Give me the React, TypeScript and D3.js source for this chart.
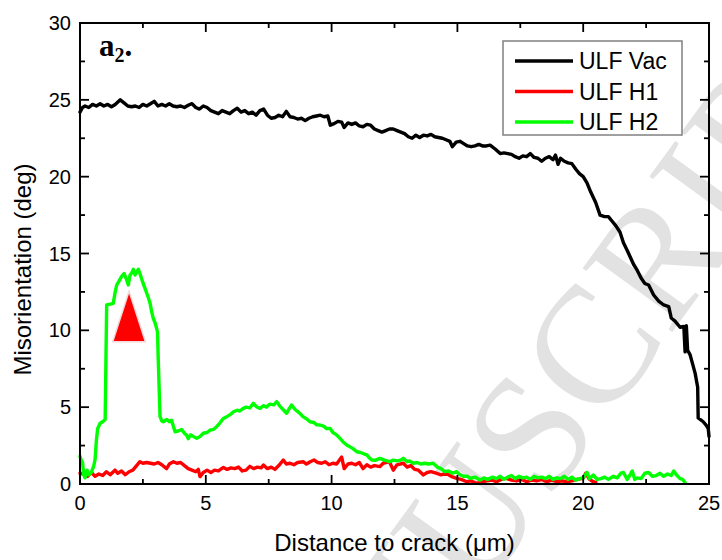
import React from "react";
import * as d3 from "d3";

// ---------- data ----------
const seriesNames = ["ULF Vac", "ULF H1", "ULF H2"];
const seriesColors = ["#000000", "#ff0000", "#00ff00"];

const xMajorTicks = [0, 5, 10, 15, 20, 25];
const xMinorTicks = [2.5, 7.5, 12.5, 17.5, 22.5];
const yMajorTicks = [0, 5, 10, 15, 20, 25, 30];
const yMinorTicks = [2.5, 7.5, 12.5, 17.5, 22.5, 27.5];

const ulfVac: [number, number][] = [
  [0, 24.2], [0.1, 24.5], [0.2, 24.6], [0.35, 24.5], [0.5, 24.7], [0.65, 24.6], [0.8, 24.75],
  [0.95, 24.6], [1.1, 24.7], [1.25, 24.55], [1.4, 24.7], [1.6, 25.0], [1.75, 24.8], [1.9, 24.6],
  [2.05, 24.55], [2.2, 24.6], [2.35, 24.5], [2.5, 24.7], [2.65, 24.6], [2.8, 24.75], [2.95, 24.9],
  [3.1, 24.6], [3.25, 24.7], [3.4, 24.6], [3.55, 24.75], [3.7, 24.6], [3.85, 24.55], [4.0, 24.6],
  [4.15, 24.5], [4.3, 24.65], [4.45, 24.75], [4.6, 24.5], [4.75, 24.4], [4.9, 24.6], [5.05, 24.5],
  [5.2, 24.3], [5.35, 24.2], [5.5, 24.1], [5.65, 24.3], [5.8, 24.2], [5.95, 24.1], [6.1, 24.3],
  [6.25, 24.45], [6.4, 24.2], [6.55, 24.3], [6.7, 24.1], [6.85, 24.2], [7.0, 24.0], [7.15, 24.3],
  [7.3, 24.4], [7.45, 24.0], [7.6, 23.8], [7.75, 23.85], [7.9, 24.0], [8.05, 23.9], [8.2, 24.25],
  [8.35, 23.9], [8.5, 23.85], [8.65, 23.75], [8.8, 23.8], [8.95, 23.65], [9.1, 23.8], [9.25, 23.9],
  [9.4, 23.95], [9.55, 24.0], [9.7, 23.9], [9.85, 23.95], [9.95, 23.35], [10.1, 23.45], [10.25, 23.6],
  [10.4, 23.55], [10.5, 23.2], [10.65, 23.5], [10.8, 23.4], [10.95, 23.5], [11.1, 23.3], [11.25, 23.25],
  [11.4, 23.4], [11.55, 23.35], [11.7, 23.1], [11.85, 23.0], [12.0, 22.9], [12.15, 23.0], [12.3, 23.1],
  [12.45, 23.1], [12.6, 23.0], [12.75, 22.9], [12.9, 22.8], [13.05, 22.6], [13.2, 22.5], [13.35, 22.7],
  [13.5, 22.55], [13.65, 22.7], [13.8, 22.65], [13.95, 22.75], [14.1, 22.6], [14.25, 22.55], [14.4, 22.5],
  [14.55, 22.4], [14.7, 22.3], [14.8, 21.95], [14.95, 22.25], [15.1, 22.3], [15.25, 22.15], [15.4, 22.0],
  [15.55, 21.95], [15.7, 22.0], [15.85, 22.1], [16.0, 22.0], [16.15, 22.0], [16.3, 22.05], [16.5, 21.8],
  [16.7, 21.5], [16.85, 21.55], [17.0, 21.5], [17.15, 21.45], [17.3, 21.3], [17.45, 21.2], [17.6, 21.35],
  [17.75, 21.3], [17.9, 21.5], [18.05, 21.25], [18.2, 21.2], [18.35, 21.0], [18.5, 21.2], [18.65, 21.3],
  [18.8, 21.1], [18.9, 21.4], [19.0, 20.8], [19.1, 21.2], [19.25, 21.0], [19.4, 20.9], [19.55, 20.85],
  [19.7, 20.5], [19.85, 20.2], [20.0, 20.0], [20.15, 19.6], [20.3, 19.0], [20.5, 18.3], [20.67, 17.5],
  [20.85, 17.4], [21.0, 17.4], [21.15, 17.1], [21.3, 16.8], [21.46, 16.4], [21.6, 15.7], [21.75, 15.2],
  [21.86, 14.8], [22.0, 14.3], [22.15, 13.9], [22.3, 13.4], [22.45, 13.05], [22.6, 12.95], [22.8, 12.3],
  [23.0, 11.9], [23.2, 11.65], [23.4, 11.55], [23.5, 10.8], [23.65, 10.6], [23.85, 10.2], [24.0, 10.25],
  [24.05, 8.6], [24.1, 10.3], [24.15, 8.7], [24.25, 8.4], [24.35, 7.8], [24.45, 7.2], [24.55, 6.3],
  [24.57, 4.3], [24.77, 4.05], [24.9, 3.8], [24.97, 3.6], [25.0, 3.1],
];

const ulfH1: [number, number][] = [
  [0, 0.7], [0.15, 0.65], [0.3, 0.5], [0.45, 0.75], [0.6, 0.5], [0.75, 0.65], [0.9, 0.55], [1.05, 0.8],
  [1.2, 0.6], [1.39, 0.9], [1.5, 0.7], [1.65, 0.85], [1.8, 0.6], [1.95, 0.8], [2.1, 0.9], [2.25, 1.2],
  [2.38, 1.45], [2.5, 1.35], [2.65, 1.4], [2.8, 1.35], [2.95, 1.3], [3.1, 1.4], [3.25, 1.25], [3.44, 1.0],
  [3.55, 1.3], [3.71, 1.45], [3.85, 1.35], [4.0, 1.4], [4.15, 1.2], [4.3, 1.0], [4.45, 0.9], [4.6, 0.8],
  [4.7, 0.95], [4.77, 0.48], [4.9, 0.75], [5.05, 0.9], [5.2, 0.75], [5.35, 0.9], [5.5, 0.85], [5.7, 1.08],
  [5.85, 0.95], [6.0, 1.05], [6.15, 1.0], [6.3, 1.1], [6.45, 0.85], [6.6, 0.9], [6.75, 1.15], [6.9, 1.0],
  [7.05, 1.1], [7.2, 1.05], [7.29, 1.24], [7.45, 1.0], [7.6, 1.1], [7.75, 0.95], [7.9, 1.2], [8.08, 1.56],
  [8.2, 1.3], [8.35, 1.35], [8.5, 1.25], [8.65, 1.4], [8.87, 1.45], [9.0, 1.3], [9.15, 1.45], [9.3, 1.56],
  [9.45, 1.4], [9.6, 1.35], [9.75, 1.45], [9.9, 1.25], [10.05, 1.35], [10.2, 1.3], [10.4, 1.75], [10.5, 1.0],
  [10.65, 1.3], [10.8, 1.35], [10.95, 1.25], [11.1, 1.4], [11.25, 1.0], [11.4, 1.25], [11.55, 1.1], [11.7, 1.2],
  [11.92, 1.13], [12.05, 1.35], [12.3, 1.45], [12.45, 0.9], [12.6, 1.25], [12.85, 1.35], [13.0, 1.1],
  [13.15, 1.2], [13.3, 0.95], [13.45, 0.9], [13.65, 0.59], [13.8, 0.75], [13.95, 0.8], [14.15, 0.7],
  [14.35, 0.6], [14.55, 0.7], [14.75, 0.5], [14.97, 0.37], [15.15, 0.3], [15.37, 0.15], [15.55, 0.2],
  [15.75, 0.05], [15.95, 0.1], [16.15, 0.2], [16.35, 0.26], [16.55, 0.15], [16.75, 0.3], [16.95, 0.37],
  [17.15, 0.25], [17.35, 0.2], [17.55, 0.3], [17.75, 0.15], [17.95, 0.25], [18.15, 0.2], [18.35, 0.3],
  [18.55, 0.15], [18.75, 0.25], [18.95, 0.15], [19.15, 0.2], [19.35, 0.15], [19.55, 0.2], [19.75, 0.3],
  [20.0, 0.37], [20.1, 0.7], [20.25, 0.3], [20.4, 0.15], [20.5, 0.1],
];

const ulfH2: [number, number][] = [
  [0, 1.8], [0.05, 1.55], [0.1, 1.4], [0.15, 0.6], [0.2, 0.4], [0.28, 0.9], [0.35, 0.6], [0.45, 0.75],
  [0.55, 1.2], [0.6, 1.6], [0.65, 2.8], [0.7, 3.6], [0.8, 3.95], [0.9, 4.05], [1.0, 4.2], [1.03, 8.0],
  [1.06, 11.65], [1.2, 11.7], [1.32, 11.75], [1.4, 12.5], [1.46, 12.95], [1.55, 13.2], [1.65, 13.5],
  [1.75, 13.7], [1.85, 13.3], [1.92, 12.95], [1.99, 13.6], [2.06, 13.75], [2.12, 13.97], [2.19, 13.6],
  [2.26, 13.8], [2.32, 13.97], [2.4, 13.6], [2.5, 13.1], [2.58, 12.75], [2.7, 12.2], [2.78, 11.8],
  [2.85, 11.2], [2.91, 10.8], [3.0, 10.4], [3.08, 9.9], [3.11, 8.1], [3.15, 6.0], [3.18, 4.4], [3.25, 4.1],
  [3.31, 4.05], [3.45, 4.2], [3.55, 4.05], [3.64, 4.15], [3.72, 3.7], [3.78, 3.4], [3.9, 3.45], [4.04, 3.55],
  [4.15, 3.3], [4.25, 3.15], [4.3, 2.95], [4.4, 3.2], [4.5, 3.1], [4.64, 2.97], [4.78, 3.1], [4.9, 3.3],
  [5.05, 3.35], [5.17, 3.5], [5.3, 3.55], [5.43, 3.73], [5.55, 3.95], [5.7, 4.27], [5.85, 4.4], [6.0, 4.55],
  [6.1, 4.7], [6.25, 4.8], [6.35, 4.75], [6.49, 4.92], [6.6, 5.0], [6.75, 4.95], [6.89, 5.25], [7.0, 5.05],
  [7.15, 4.92], [7.3, 5.1], [7.4, 5.0], [7.55, 5.2], [7.7, 5.15], [7.82, 5.36], [7.95, 5.05], [8.1, 4.8],
  [8.21, 4.6], [8.3, 4.85], [8.41, 5.14], [8.55, 4.85], [8.74, 4.6], [8.85, 4.4], [9.0, 4.25], [9.14, 4.05],
  [9.3, 4.0], [9.4, 3.85], [9.54, 3.84], [9.7, 3.75], [9.8, 3.6], [9.94, 3.62], [10.05, 3.35], [10.2, 3.2],
  [10.33, 2.97], [10.45, 2.75], [10.6, 2.54], [10.75, 2.4], [10.85, 2.3], [11.0, 2.1], [11.15, 2.05],
  [11.3, 1.95], [11.4, 1.89], [11.5, 1.7], [11.6, 1.56], [11.75, 1.55], [11.92, 1.67], [12.1, 1.55],
  [12.3, 1.45], [12.45, 1.55], [12.6, 1.5], [12.75, 1.55], [12.85, 1.67], [13.0, 1.45], [13.1, 1.5],
  [13.25, 1.35], [13.4, 1.4], [13.55, 1.3], [13.7, 1.35], [13.85, 1.3], [14.04, 1.35], [14.2, 1.1],
  [14.35, 1.0], [14.5, 0.8], [14.65, 0.85], [14.8, 0.7], [14.97, 0.8], [15.1, 0.6], [15.25, 0.5],
  [15.4, 0.5], [15.5, 0.37], [15.7, 0.45], [15.9, 0.26], [16.05, 0.4], [16.2, 0.3], [16.4, 0.45],
  [16.55, 0.35], [16.7, 0.5], [16.85, 0.3], [17.0, 0.45], [17.15, 0.55], [17.3, 0.35], [17.45, 0.5],
  [17.6, 0.4], [17.75, 0.45], [17.9, 0.3], [18.05, 0.5], [18.2, 0.4], [18.35, 0.45], [18.5, 0.35],
  [18.65, 0.5], [18.8, 0.3], [18.95, 0.4], [19.1, 0.35], [19.25, 0.5], [19.4, 0.3], [19.55, 0.45],
  [19.7, 0.25], [19.85, 0.35], [20.0, 0.4], [20.15, 0.75], [20.25, 0.35], [20.4, 0.59], [20.55, 0.3],
  [20.7, 0.35], [20.85, 0.45], [21.0, 0.3], [21.2, 0.5], [21.35, 0.4], [21.5, 0.7], [21.6, 0.75],
  [21.75, 0.3], [21.85, 0.55], [21.95, 0.85], [22.05, 0.3], [22.15, 0.4], [22.3, 0.35], [22.45, 0.7],
  [22.6, 0.75], [22.75, 0.5], [22.9, 0.55], [23.05, 0.7], [23.2, 0.5], [23.35, 0.65], [23.5, 0.55],
  [23.6, 0.85], [23.7, 0.6], [23.85, 0.35], [23.95, 0.3], [24.05, 0.1],
];

const seriesData = [ulfVac, ulfH1, ulfH2];

// annotation marker (triangle): apex and base level in data units
const markerX = [1.95];
const markerApexY = [12.55];
const markerBaseY = [9.25];
const markerHalfWidth = [0.65];

const xDomain = [0, 25];
const yDomain = [0, 30];

// ---------- layout ----------
const W = 722;
const H = 560;
const M = { left: 80, right: 13, top: 23, bottom: 76 };
const FONT = "Arial, 'Liberation Sans', Helvetica, sans-serif";

export default function App() {
  const x = d3.scaleLinear().domain(xDomain).range([M.left, W - M.right]);
  const y = d3.scaleLinear().domain(yDomain).range([H - M.bottom, M.top]);
  const line = d3
    .line<[number, number]>()
    .x((d) => x(d[0]))
    .y((d) => y(d[1]));

  const x0 = x.range()[0];
  const x1 = x.range()[1];
  const y0 = y.range()[0];
  const y1 = y.range()[1];
  const majorLen = 9;
  const minorLen = 5;

  // watermark anchor
  const wmX = 548;
  const wmY = 503;

  return (
    <div>
      <style>{`body{margin:0;}`}</style>
      <svg width={W} height={H} style={{ display: "block", background: "#fff" }}>
        {/* watermark */}
        <g transform={`translate(${wmX},${wmY}) rotate(-54)`} fill="#e2e2e2"
          fontFamily="'Liberation Serif', 'Times New Roman', serif" fontSize={168}>
          <text x={0} y={0} textAnchor="end">ACCEPTED MANU</text>
          <text x={0} y={0} textAnchor="start">SCRIPT</text>
        </g>

        {/* series */}
        {seriesData.map((s, i) => (
          <path key={i} d={line(s) || ""} fill="none" stroke={seriesColors[i]}
            strokeWidth={3.4} strokeLinejoin="round" strokeLinecap="round" />
        ))}

        {/* triangle marker */}
        {markerX.map((mx, i) => {
          const ax = x(mx);
          const ay = y(markerApexY[i]);
          const by = y(markerBaseY[i]);
          const bl = x(mx - markerHalfWidth[i]);
          const br = x(mx + markerHalfWidth[i]);
          return (
            <path key={i} d={`M${ax},${ay}L${br},${by}L${bl},${by}Z`} fill="#ff0000"
              stroke="#f2d8d8" strokeWidth={1.5} strokeLinejoin="miter" />
          );
        })}

        {/* frame */}
        <rect x={x0} y={y1} width={x1 - x0} height={y0 - y1} fill="none" stroke="#000" strokeWidth={2} />

        {/* x ticks (bottom + top, inward) */}
        {xMajorTicks.map((t) => (
          <g key={"xM" + t}>
            <line x1={x(t)} x2={x(t)} y1={y0} y2={y0 - majorLen} stroke="#000" strokeWidth={1.8} />
            <line x1={x(t)} x2={x(t)} y1={y1} y2={y1 + majorLen} stroke="#000" strokeWidth={1.8} />
          </g>
        ))}
        {xMinorTicks.map((t) => (
          <g key={"xm" + t}>
            <line x1={x(t)} x2={x(t)} y1={y0} y2={y0 - minorLen} stroke="#000" strokeWidth={1.8} />
            <line x1={x(t)} x2={x(t)} y1={y1} y2={y1 + minorLen} stroke="#000" strokeWidth={1.8} />
          </g>
        ))}
        {/* y ticks */}
        {yMajorTicks.map((t) => (
          <g key={"yM" + t}>
            <line x1={x0} x2={x0 + majorLen} y1={y(t)} y2={y(t)} stroke="#000" strokeWidth={1.8} />
            <line x1={x1} x2={x1 - majorLen} y1={y(t)} y2={y(t)} stroke="#000" strokeWidth={1.8} />
          </g>
        ))}
        {yMinorTicks.map((t) => (
          <g key={"ym" + t}>
            <line x1={x0} x2={x0 + minorLen} y1={y(t)} y2={y(t)} stroke="#000" strokeWidth={1.8} />
            <line x1={x1} x2={x1 - minorLen} y1={y(t)} y2={y(t)} stroke="#000" strokeWidth={1.8} />
          </g>
        ))}

        {/* tick labels */}
        {xMajorTicks.map((t) => (
          <text key={"xl" + t} x={x(t)} y={y0 + 26} textAnchor="middle" fontFamily={FONT} fontSize={20} fill="#000">
            {t}
          </text>
        ))}
        {yMajorTicks.map((t) => (
          <text key={"yl" + t} x={x0 - 9} y={y(t) + 7} textAnchor="end" fontFamily={FONT} fontSize={20} fill="#000">
            {t}
          </text>
        ))}

        {/* axis titles */}
        <text x={(x0 + x1) / 2} y={551} textAnchor="middle" fontFamily={FONT} fontSize={24} fill="#000">
          Distance to crack (μm)
        </text>
        <text transform={`translate(31,${(y0 + y1) / 2 + 16}) rotate(-90)`} textAnchor="middle"
          fontFamily={FONT} fontSize={24} fill="#000">
          Misorientation (deg)
        </text>

        {/* panel label */}
        <text x={99} y={56} fontFamily="'Liberation Serif', 'Times New Roman', serif" fontWeight="bold" fontSize={31} fill="#000">
          a<tspan fontSize={20} dy={6}>2</tspan><tspan dy={-6}>.</tspan>
        </text>

        {/* legend */}
        <rect x={503} y={41} width={179} height={94} fill="#fff" stroke="#808080" strokeWidth={1.5} />
        {seriesNames.map((n, i) => (
          <g key={n}>
            <line x1={515} x2={573} y1={61 + i * 30.5} y2={61 + i * 30.5} stroke={seriesColors[i]} strokeWidth={3.5} />
            <text x={579} y={69 + i * 30.5} fontFamily={FONT} fontSize={23} fill="#000">{n}</text>
          </g>
        ))}
      </svg>
    </div>
  );
}
